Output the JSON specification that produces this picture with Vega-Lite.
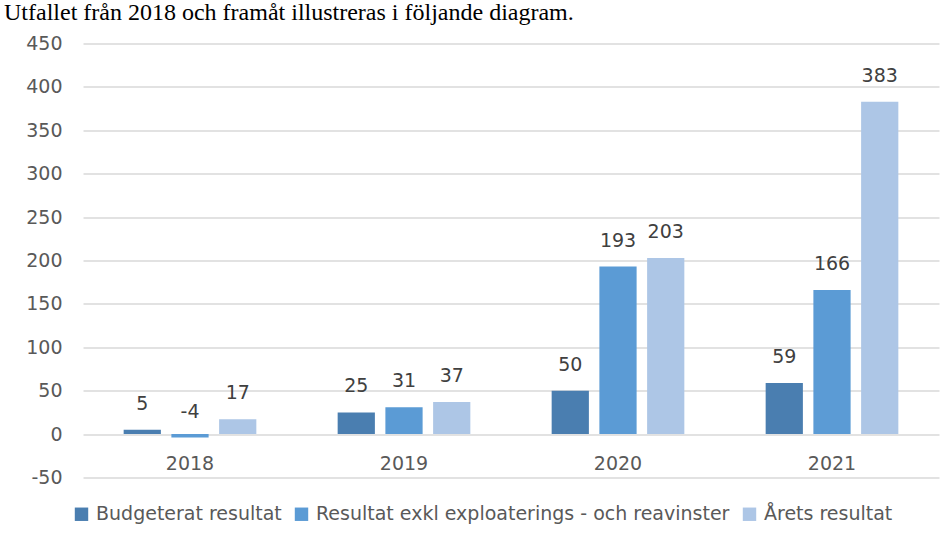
{
  "$schema": "https://vega.github.io/schema/vega-lite/v6.json",
  "width": 856,
  "height": 434,
  "autosize": {"type": "none"},
  "padding": {"left": 83, "top": 43.5, "right": 12, "bottom": 64.5},
  "background": "white",
  "title": {
    "text": "Utfallet från 2018 och framåt illustreras i följande diagram.",
    "anchor": "start",
    "frame": "group",
    "font": "Liberation Serif",
    "fontSize": 24,
    "fontWeight": "normal",
    "color": "#000000",
    "baseline": "bottom",
    "dx": -79,
    "dy": 16,
    "offset": 2
  },
  "config": {
    "font": "DejaVu Sans",
    "view": {"stroke": null}
  },
  "data": {
    "values": [
      {"year": "2018", "series": "Budgeterat resultat", "value": 5},
      {"year": "2018", "series": "Resultat exkl exploaterings - och reavinster", "value": -4},
      {"year": "2018", "series": "Årets resultat", "value": 17},
      {"year": "2019", "series": "Budgeterat resultat", "value": 25},
      {"year": "2019", "series": "Resultat exkl exploaterings - och reavinster", "value": 31},
      {"year": "2019", "series": "Årets resultat", "value": 37},
      {"year": "2020", "series": "Budgeterat resultat", "value": 50},
      {"year": "2020", "series": "Resultat exkl exploaterings - och reavinster", "value": 193},
      {"year": "2020", "series": "Årets resultat", "value": 203},
      {"year": "2021", "series": "Budgeterat resultat", "value": 59},
      {"year": "2021", "series": "Resultat exkl exploaterings - och reavinster", "value": 166},
      {"year": "2021", "series": "Årets resultat", "value": 383}
    ]
  },
  "encoding": {
    "x": {
      "field": "year",
      "type": "nominal",
      "scale": {"paddingInner": 0.38, "paddingOuter": 0.19},
      "axis": {
        "title": null,
        "offset": -44,
        "domain": false,
        "ticks": false,
        "labelAngle": 0,
        "labelPadding": 21,
        "labelFontSize": 19,
        "labelColor": "#595959",
        "labelFont": "DejaVu Sans"
      }
    },
    "xOffset": {
      "field": "series",
      "type": "nominal",
      "sort": ["Budgeterat resultat", "Resultat exkl exploaterings - och reavinster", "Årets resultat"],
      "scale": {"paddingInner": 0.22, "paddingOuter": 0}
    },
    "y": {
      "field": "value",
      "type": "quantitative",
      "scale": {"domain": [-50, 450], "nice": false, "zero": false},
      "axis": {
        "title": null,
        "values": [-50, 0, 50, 100, 150, 200, 250, 300, 350, 400, 450],
        "labelExpr": "'' + datum.value",
        "domain": false,
        "ticks": false,
        "labelPadding": 21,
        "labelFontSize": 19,
        "labelColor": "#595959",
        "labelFont": "DejaVu Sans",
        "gridColor": "#d9d9d9",
        "gridWidth": 1.5
      }
    }
  },
  "layer": [
    {
      "mark": {"type": "bar"},
      "encoding": {
        "color": {
          "field": "series",
          "type": "nominal",
          "scale": {
            "domain": ["Budgeterat resultat", "Resultat exkl exploaterings - och reavinster", "Årets resultat"],
            "range": ["#4a7eb0", "#5b9bd5", "#adc6e6"]
          },
          "legend": {
            "title": null,
            "orient": "none",
            "direction": "horizontal",
            "legendX": -11,
            "legendY": 461,
            "symbolType": "square",
            "symbolSize": 180,
            "symbolStrokeWidth": 0,
            "labelFontSize": 19,
            "labelColor": "#595959",
            "labelFont": "DejaVu Sans",
            "labelOffset": 5,
            "columnPadding": 10,
            "labelLimit": 500
          }
        }
      }
    },
    {
      "mark": {"type": "text", "dy": -26, "fontSize": 19, "color": "#404040", "baseline": "middle", "font": "DejaVu Sans"},
      "encoding": {
        "text": {"field": "value", "type": "nominal"}
      }
    }
  ]
}
